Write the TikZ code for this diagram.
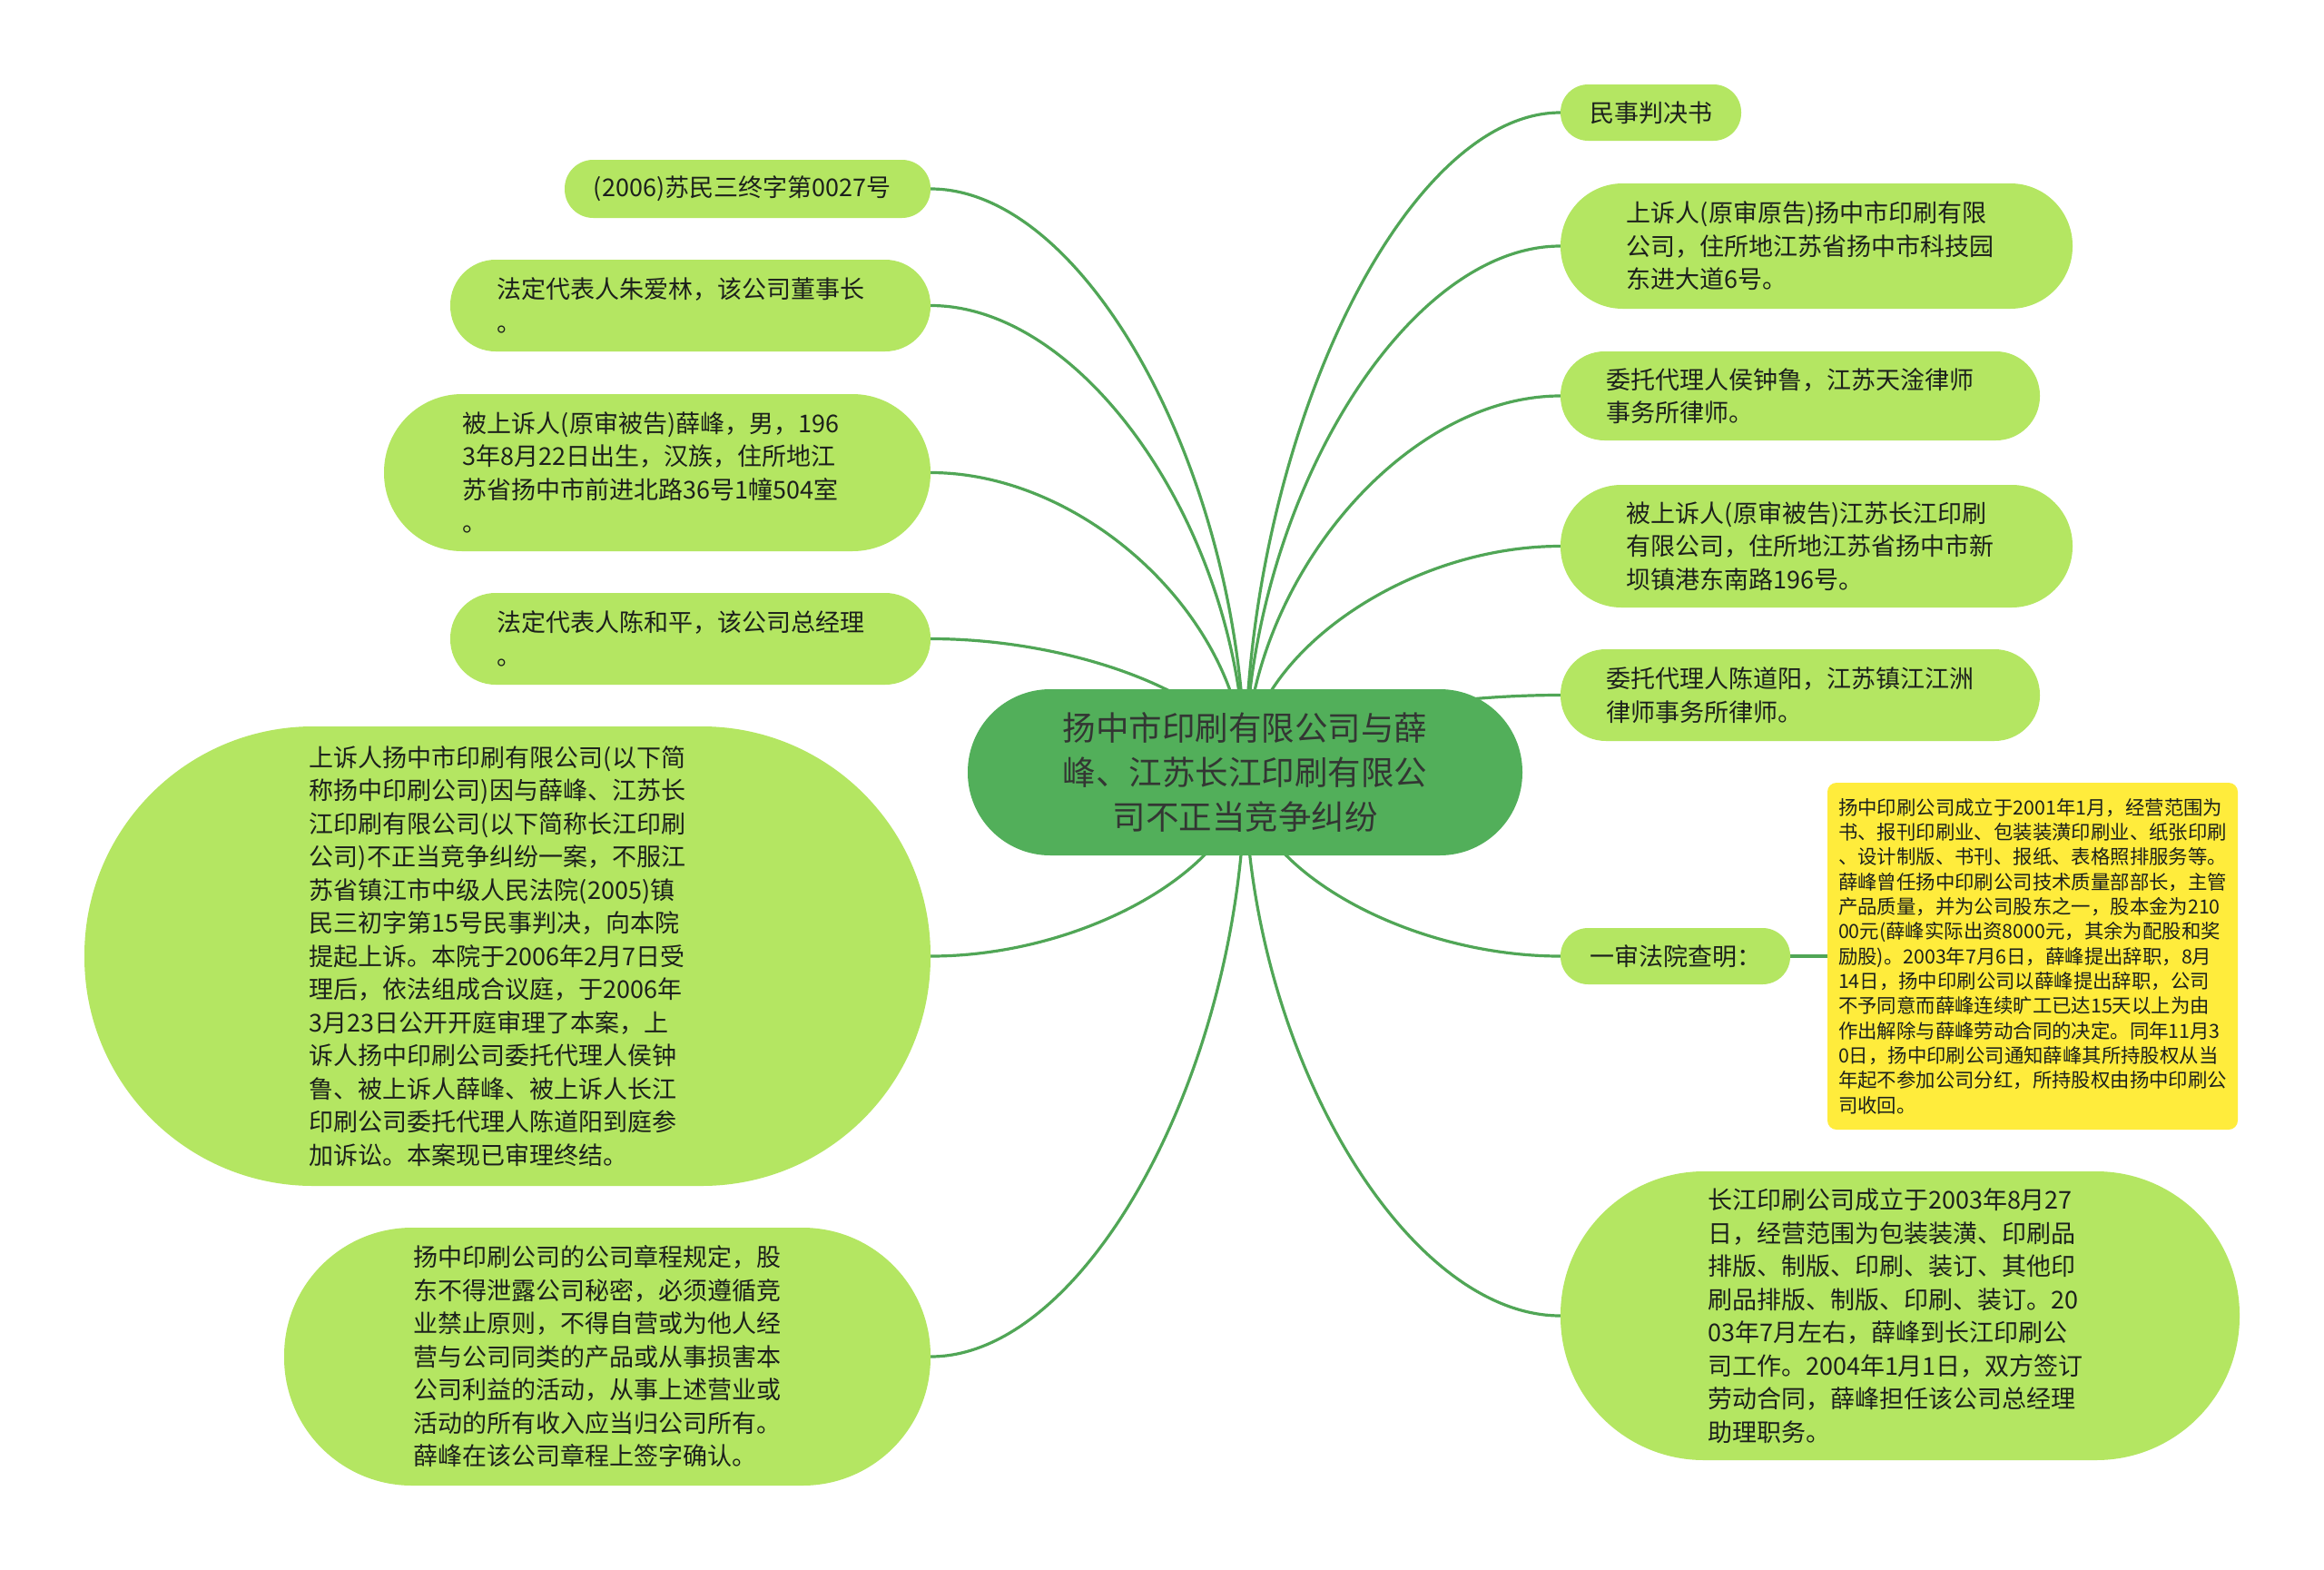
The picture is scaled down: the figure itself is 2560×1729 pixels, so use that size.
\documentclass[tikz,border=0pt]{standalone}
\usepackage{fontspec}
\setmainfont{Noto Sans CJK SC}
\usetikzlibrary{calc,backgrounds}
\definecolor{leaf}{RGB}{180,230,98}
\definecolor{rootc}{RGB}{82,175,90}
\definecolor{edgec}{RGB}{80,166,86}
\definecolor{notec}{RGB}{255,236,60}
\definecolor{ink}{RGB}{28,32,28}
\newcommand\pd{\hspace*{22pt}}
\tikzset{
  leafbox/.style={fill=leaf, inner sep=0pt, align=left, text=ink,
    font=\fontsize{27pt}{36.5pt}\selectfont},
  rootbox/.style={fill=rootc, inner sep=0pt, align=center, text=ink!90,
    font=\fontsize{36.5pt}{49pt}\selectfont},
  notebox/.style={fill=notec, inner sep=0pt, align=left, text=ink,
    rounded corners=10pt, font=\fontsize{21.4pt}{27.35pt}\selectfont},
  edgeline/.style={draw=edgec, line width=3.2pt},
}
\begin{document}
\begin{tikzpicture}[x=1pt,y=-1pt]
\useasboundingbox (0,0) rectangle (2560,1729);

% central
\node[rootbox, minimum width=611pt, minimum height=183pt, rounded corners=91pt] (c) at (1371.5,850.5)
  {扬中市印刷有限公司与薛\\峰、江苏长江印刷有限公\\司不正当竞争纠纷};

% right side
\node[leafbox, minimum width=199pt, minimum height=62pt, rounded corners=30.5pt] (n1) at (1818.5,124) {民事判决书};
\node[leafbox, minimum width=564pt, minimum height=138pt, rounded corners=68.5pt] (n2) at (2001,271)
  {上诉人(原审原告)扬中市印刷有限\pd\\公司，住所地江苏省扬中市科技园\pd\\东进大道6号。};
\node[leafbox, minimum width=528pt, minimum height=98pt, rounded corners=48.5pt] (n3) at (1983,436)
  {委托代理人侯钟鲁，江苏天淦律师\pd\\事务所律师。};
\node[leafbox, minimum width=564pt, minimum height=135pt, rounded corners=67pt] (n4) at (2001,601.5)
  {被上诉人(原审被告)江苏长江印刷\pd\\有限公司，住所地江苏省扬中市新\pd\\坝镇港东南路196号。};
\node[leafbox, minimum width=528pt, minimum height=101pt, rounded corners=50pt] (n5) at (1983,765.5)
  {委托代理人陈道阳，江苏镇江江洲\pd\\律师事务所律师。};
\node[leafbox, minimum width=253pt, minimum height=62pt, rounded corners=30.5pt] (n6) at (1845.5,1053) {一审法院查明：};
\node[notebox, minimum width=452pt, minimum height=382pt] (n7) at (2239,1053)
  {扬中印刷公司成立于2001年1月，经营范围为\\书、报刊印刷业、包装装潢印刷业、纸张印刷\\、设计制版、书刊、报纸、表格照排服务等。\\薛峰曾任扬中印刷公司技术质量部部长，主管\\产品质量，并为公司股东之一，股本金为210\\00元(薛峰实际出资8000元，其余为配股和奖\\励股)。2003年7月6日，薛峰提出辞职，8月\\14日，扬中印刷公司以薛峰提出辞职，公司\\不予同意而薛峰连续旷工已达15天以上为由\\作出解除与薛峰劳动合同的决定。同年11月3\\0日，扬中印刷公司通知薛峰其所持股权从当\\年起不参加公司分红，所持股权由扬中印刷公\\司收回。};
\node[leafbox, minimum width=748pt, minimum height=318pt, rounded corners=158pt] (n8) at (2093,1449)
  {长江印刷公司成立于2003年8月27\pd\\日，经营范围为包装装潢、印刷品\pd\\排版、制版、印刷、装订、其他印\pd\\刷品排版、制版、印刷、装订。20\pd\\03年7月左右，薛峰到长江印刷公\pd\\司工作。2004年1月1日，双方签订\pd\\劳动合同，薛峰担任该公司总经理\pd\\助理职务。};

% left side
\node[leafbox, minimum width=403pt, minimum height=64pt, rounded corners=31.5pt] (n9) at (823.5,208) {(2006)苏民三终字第0027号\hspace*{12pt}};
\node[leafbox, minimum width=529pt, minimum height=101pt, rounded corners=50pt] (n10) at (760.5,336.5)
  {法定代表人朱爱林，该公司董事长\pd\\。};
\node[leafbox, minimum width=602pt, minimum height=173pt, rounded corners=86pt] (n11) at (724,520.5)
  {被上诉人(原审被告)薛峰，男，196\hspace*{14pt}\\3年8月22日出生，汉族，住所地江\hspace*{14pt}\\苏省扬中市前进北路36号1幢504室\hspace*{14pt}\\。};
\node[leafbox, minimum width=529pt, minimum height=101pt, rounded corners=50pt] (n12) at (760.5,703.5)
  {法定代表人陈和平，该公司总经理\pd\\。};
\node[leafbox, minimum width=932pt, minimum height=506pt, rounded corners=252pt] (n13) at (559,1053)
  {上诉人扬中市印刷有限公司(以下简\pd\\称扬中印刷公司)因与薛峰、江苏长\pd\\江印刷有限公司(以下简称长江印刷\pd\\公司)不正当竞争纠纷一案，不服江\pd\\苏省镇江市中级人民法院(2005)镇\pd\\民三初字第15号民事判决，向本院\pd\\提起上诉。本院于2006年2月7日受\pd\\理后，依法组成合议庭，于2006年\pd\\3月23日公开开庭审理了本案，上\pd\\诉人扬中印刷公司委托代理人侯钟\pd\\鲁、被上诉人薛峰、被上诉人长江\pd\\印刷公司委托代理人陈道阳到庭参\pd\\加诉讼。本案现已审理终结。};
\node[leafbox, minimum width=712pt, minimum height=284pt, rounded corners=141pt] (n14) at (669,1494)
  {扬中印刷公司的公司章程规定，股\pd\\东不得泄露公司秘密，必须遵循竞\pd\\业禁止原则，不得自营或为他人经\pd\\营与公司同类的产品或从事损害本\pd\\公司利益的活动，从事上述营业或\pd\\活动的所有收入应当归公司所有。\pd\\薛峰在该公司章程上签字确认。};

\begin{scope}[on background layer]
\fill[white] (0,0) rectangle (2560,1729);
\foreach \t/\a in {n1/west,n2/west,n3/west,n4/west,n5/west,n6/west,n8/west,
                   n9/east,n10/east,n11/east,n12/east,n13/east,n14/east}{
  \draw[edgeline] (c.center) .. controls ($(c.center)!0.5!(c.center|-\t.\a)$)
     and ($(\t.\a)!0.5!(c.center|-\t.\a)$) .. (\t.\a);
}
\draw[edgeline] (n6.east) -- (n7.west);
\end{scope}
\end{tikzpicture}
\end{document}
